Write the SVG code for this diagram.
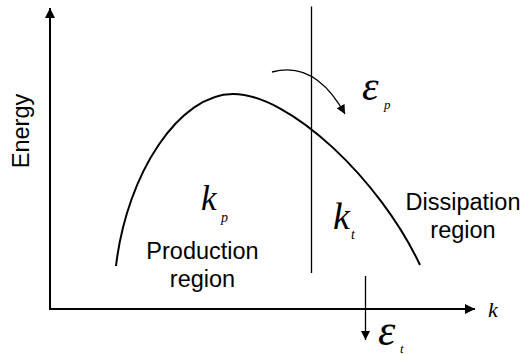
<svg xmlns="http://www.w3.org/2000/svg" width="524" height="355" viewBox="0 0 524 355">
<defs>
<style>
.ax{stroke:#000;stroke-width:2;fill:none}
.thin{stroke:#000;stroke-width:1.3;fill:none}
.lbl{font-family:"Liberation Sans",Arial,sans-serif;font-size:23.5px;fill:#000}
.sym{font-family:"Liberation Serif","Times New Roman",serif;font-style:italic;fill:#000}
</style>
<marker id="ahBig" viewBox="0 0 10 10" refX="10" refY="5" markerWidth="10" markerHeight="10" markerUnits="userSpaceOnUse" orient="auto"><path d="M0,0 L10,5 L0,10 Z" fill="#000"/></marker>
<marker id="ahSmall" viewBox="0 0 10 10" refX="10" refY="5" markerWidth="10" markerHeight="9" markerUnits="userSpaceOnUse" orient="auto"><path d="M0,0 L10,5 L0,10 Z" fill="#000"/></marker>
</defs>
<rect width="524" height="355" fill="#fff"/>
<g id="connectors">
<line id="yaxis" class="ax" x1="50" y1="309" x2="50" y2="8" marker-end="url(#ahBig)"/>
<line id="xaxis" class="ax" x1="49" y1="309" x2="475" y2="309" marker-end="url(#ahBig)"/>
<path id="curve" class="ax" d="M116,266 C127,172 180,94 233,94 C290,94 380,180 420,265"/>
<line id="divider" class="thin" x1="311.5" y1="6.5" x2="311.5" y2="273"/>
<path id="eps-p-arrow" class="thin" d="M272,72 Q315,60 345,114" marker-end="url(#ahSmall)"/>
<line id="eps-t-arrow" class="thin" x1="365.5" y1="276" x2="365.5" y2="340" marker-end="url(#ahSmall)"/>
</g>
<g id="energy-label"><text class="lbl" transform="translate(28.5,131) rotate(-90)" text-anchor="middle">Energy</text></g>
<g id="k-axis-label"><text class="sym" x="488" y="317" font-size="22">k</text></g>
<g id="production"><text class="lbl" x="202.5" y="259" text-anchor="middle">Production</text><text class="lbl" x="202.5" y="287" text-anchor="middle">region</text></g>
<g id="dissipation"><text class="lbl" x="463" y="210" text-anchor="middle">Dissipation</text><text class="lbl" x="463" y="238" text-anchor="middle">region</text></g>
<g id="kp"><text class="sym" x="201" y="210" font-size="35">k</text><text class="sym" x="221" y="222" font-size="14">p</text></g>
<g id="kt"><text class="sym" x="333" y="229" font-size="38">k</text><text class="sym" x="351" y="239" font-size="14">t</text></g>
<g id="eps-p"><text class="sym" x="362" y="100" font-size="42">ε</text><text class="sym" x="384" y="109" font-size="13">p</text></g>
<g id="eps-t"><text class="sym" x="378" y="345" font-size="44">ε</text><text class="sym" x="400" y="353" font-size="13">t</text></g>
</svg>
